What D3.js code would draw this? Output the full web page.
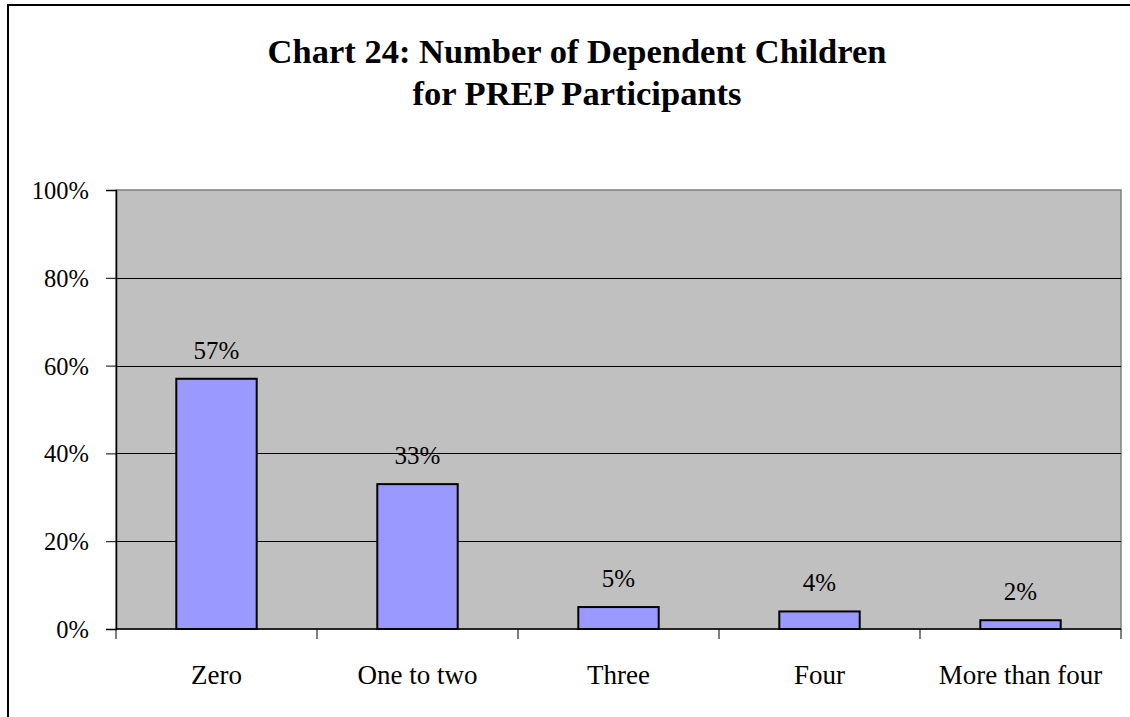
<!DOCTYPE html>
<html lang="en">
<head>
<meta charset="UTF-8">
<title>Chart 24</title>
<script src="https://d3js.org/d3.v7.min.js"></script>
<style>
  body { margin: 0; background: #fff; }
  text { font-family: "Liberation Serif", "Times New Roman", serif; fill: #000; }
</style>
</head>
<body>
<script>
var categories = ["Zero", "One to two", "Three", "Four", "More than four"];
var values = [57, 33, 5, 4, 2];
var yTicks = [0, 20, 40, 60, 80, 100];
var titleLines = ["Chart 24: Number of Dependent Children", "for PREP Participants"];

var width = 1130, height = 717;
var plot = { left: 116, right: 1121, top: 190, bottom: 629 };

var svg = d3.select("body").append("svg")
    .attr("width", width)
    .attr("height", height);

// outer chart border (runs off right and bottom edges)
svg.append("rect")
    .attr("x", 8).attr("y", 5)
    .attr("width", 1200).attr("height", 800)
    .attr("fill", "#fff")
    .attr("stroke", "#000")
    .attr("stroke-width", 2);

// title
svg.append("g").selectAll("text")
    .data(titleLines)
    .join("text")
    .attr("x", 577)
    .attr("y", function (d, i) { return 63 + i * 42; })
    .attr("text-anchor", "middle")
    .style("font-size", "34.5px")
    .style("font-weight", "bold")
    .text(function (d) { return d; });

var x = d3.scaleBand()
    .domain(categories)
    .range([plot.left, plot.right])
    .paddingInner(0.6)
    .paddingOuter(0.3);

var y = d3.scaleLinear()
    .domain([0, 100])
    .range([plot.bottom, plot.top]);

// plot area
svg.append("rect")
    .attr("x", plot.left).attr("y", plot.top)
    .attr("width", plot.right - plot.left)
    .attr("height", plot.bottom - plot.top)
    .attr("fill", "#c0c0c0")
    .attr("stroke", "#808080")
    .attr("stroke-width", 1.5);

// gridlines
svg.append("g").selectAll("line")
    .data(yTicks.filter(function (d) { return d > 0 && d < 100; }))
    .join("line")
    .attr("x1", plot.left).attr("x2", plot.right)
    .attr("y1", function (d) { return Math.round(y(d)) + 0.5; })
    .attr("y2", function (d) { return Math.round(y(d)) + 0.5; })
    .attr("stroke", "#000")
    .attr("stroke-width", 1);

// y axis
var yAxis = svg.append("g")
    .attr("transform", "translate(" + plot.left + ",0)")
    .call(d3.axisLeft(y).tickValues(yTicks).tickSize(10).tickPadding(17)
        .tickFormat(function (d) { return d + "%"; }));
yAxis.select(".domain").attr("stroke", "#000").attr("stroke-width", 1.5);
yAxis.selectAll(".tick line").attr("stroke", "#000");
yAxis.selectAll(".tick text")
    .style("font-size", "24.5px")
    .style("font-family", "'Liberation Serif', 'Times New Roman', serif")
    .attr("dy", "0.35em");

// x axis with ticks between categories
var step = x.step();
var boundaries = d3.range(categories.length + 1).map(function (i) { return plot.left + i * (plot.right - plot.left) / categories.length; });
svg.append("line")
    .attr("x1", plot.left).attr("x2", plot.right)
    .attr("y1", plot.bottom).attr("y2", plot.bottom)
    .attr("stroke", "#000").attr("stroke-width", 1.5);
svg.append("g").selectAll("line")
    .data(boundaries)
    .join("line")
    .attr("x1", function (d) { return d; }).attr("x2", function (d) { return d; })
    .attr("y1", plot.bottom).attr("y2", plot.bottom + 10)
    .attr("stroke", "#000");
svg.append("g").selectAll("text")
    .data(categories)
    .join("text")
    .attr("x", function (d) { return x(d) + x.bandwidth() / 2; })
    .attr("y", 684)
    .attr("text-anchor", "middle")
    .style("font-size", "27px")
    .text(function (d) { return d; });

// bars
svg.append("g").selectAll("rect")
    .data(values)
    .join("rect")
    .attr("x", function (d, i) { return x(categories[i]); })
    .attr("y", function (d) { return y(d); })
    .attr("width", x.bandwidth())
    .attr("height", function (d) { return plot.bottom - y(d); })
    .attr("fill", "#9999ff")
    .attr("stroke", "#000")
    .attr("stroke-width", 2);

// data labels
svg.append("g").selectAll("text")
    .data(values)
    .join("text")
    .attr("x", function (d, i) { return x(categories[i]) + x.bandwidth() / 2; })
    .attr("y", function (d) { return y(d) - 20; })
    .attr("text-anchor", "middle")
    .style("font-size", "25px")
    .text(function (d) { return d + "%"; });
</script>
</body>
</html>
